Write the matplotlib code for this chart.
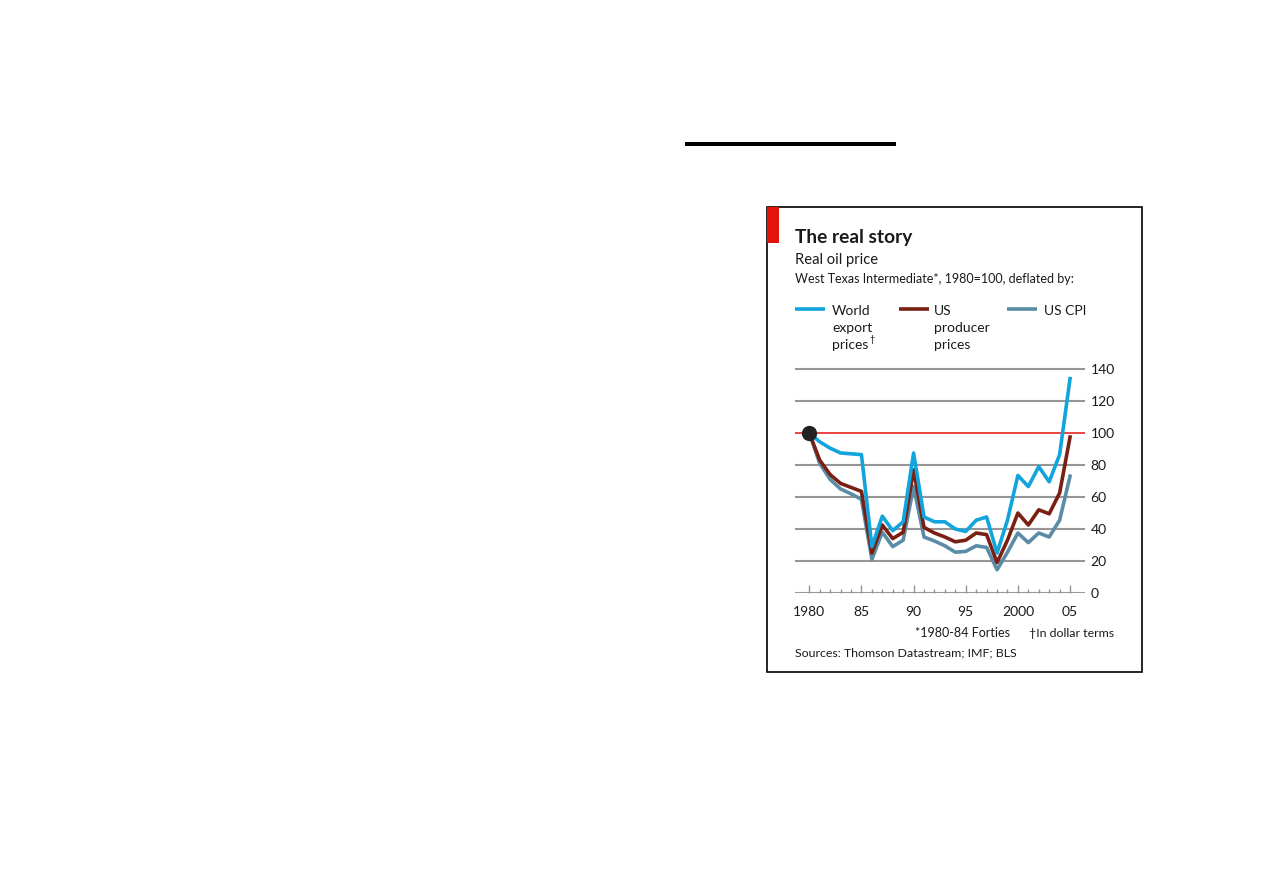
import matplotlib
matplotlib.use("Agg")
import matplotlib.pyplot as plt
from matplotlib.lines import Line2D
from matplotlib.patches import Rectangle

plt.rcParams['font.family'] = ['Lato', 'DejaVu Sans']

# ---- data ----
years = list(range(1980, 2006))
world_export = [100, 94.5, 90.5, 87.5, 87, 86.5, 29, 48, 39, 44.5, 87.5,
                47.5, 44.5, 44.5, 40, 38.5, 45.5, 47.5, 25, 45.5, 73.5,
                66.5, 79, 69.5, 86.5, 134]
us_producer = [100, 83, 74, 68.5, 66, 63.5, 25, 42.5, 34, 38, 77,
               41, 37.5, 35, 32, 33, 37.5, 36.5, 19, 33, 50,
               42.5, 52, 49.5, 62.5, 97.5]
us_cpi = [100, 81, 71, 65, 62, 58.5, 21, 38, 29, 33, 66.5,
          35, 32.5, 29.5, 25.5, 26, 29.5, 28.5, 14.5, 25.5, 37.5,
          31.5, 37.5, 35, 45.5, 73]
series_names = [["World", "export", "prices"], ["US", "producer", "prices"], ["US CPI"]]
xtick_vals = [1980, 1985, 1990, 1995, 2000, 2005]
xtick_labels = ["1980", "85", "90", "95", "2000", "05"]
ytick_vals = [0, 20, 40, 60, 80, 100, 120, 140]

C_BLUE = "#12a4dd"
C_RED = "#7a2013"
C_CPI = "#5b8ca6"
C_GRID = "#969696"
C_TEXT = "#1a1a1a"
C_ECON = "#e3120b"

W, H = 1263, 893
fig = plt.figure(figsize=(W / 100, H / 100), dpi=100)
fig.patch.set_facecolor("white")

def fx(x):
    return x / W

def fy(y):
    return 1 - y / H

# frame and decorations
fig.add_artist(Rectangle((fx(767), fy(672)), fx(1142) - fx(767), fy(207) - fy(672),
                         transform=fig.transFigure, fill=False, edgecolor="black", linewidth=1.2))
fig.add_artist(Rectangle((fx(767), fy(243)), fx(779) - fx(767), fy(207) - fy(243),
                         transform=fig.transFigure, facecolor=C_ECON, edgecolor="none"))
fig.add_artist(Rectangle((fx(685), fy(146)), fx(896) - fx(685), fy(142) - fy(146),
                         transform=fig.transFigure, facecolor="black", edgecolor="none"))

# texts
fig.text(fx(795), fy(243), "The real story", fontsize=13.8, fontweight="bold",
         color=C_TEXT, va="baseline", ha="left")
fig.text(fx(795), fy(264), "Real oil price", fontsize=10.6, color=C_TEXT,
         va="baseline", ha="left")
fig.text(fx(795), fy(283), "West Texas Intermediate*, 1980=100, deflated by:",
         fontsize=9.0, color=C_TEXT, va="baseline", ha="left")

# legend (manual)
leg = [(795, 832, C_BLUE, series_names[0]),
       (899, 934, C_RED, series_names[1]),
       (1007, 1044, C_CPI, series_names[2])]
for x0, xt, col, lines in leg:
    fig.add_artist(Line2D([fx(x0), fx(x0 + 30)], [fy(309), fy(309)],
                          transform=fig.transFigure, color=col, linewidth=2.6,
                          solid_capstyle="butt"))
    for i, ln in enumerate(lines):
        fig.text(fx(xt), fy(315 + 17 * i), ln, fontsize=10, color=C_TEXT,
                 va="baseline", ha="left")
fig.text(fx(869), fy(342), "\u2020", fontsize=6.5, color=C_TEXT, va="baseline", ha="left")

# axes
ax = fig.add_axes([fx(795), fy(593), fx(1085) - fx(795), fy(361) - fy(593)])
ax.set_facecolor("none")
ax.set_xlim(1980 - 14.3 / 10.43, 1980 + (1085 - 809.3) / 10.43)
ax.set_ylim(0, 145)
for s in ax.spines.values():
    s.set_visible(False)

for v in ytick_vals:
    if v == 100:
        ax.axhline(v, color=C_ECON, linewidth=1.1, zorder=1)
    else:
        ax.axhline(v, color=C_GRID, linewidth=1.5, zorder=1)

ax.plot(years, us_cpi, color=C_CPI, linewidth=2.6, zorder=3)
ax.plot(years, us_producer, color=C_RED, linewidth=2.6, zorder=4)
ax.plot(years, world_export, color=C_BLUE, linewidth=2.6, zorder=5)
ax.plot([years[0]], [world_export[0]], marker="o", markersize=10,
        color="#222222", zorder=6)

ax.set_xticks(xtick_vals)
ax.set_xticklabels(xtick_labels)
ax.set_xticks(years, minor=True)
ax.tick_params(axis="x", which="major", direction="in", length=5.5, width=1,
               color=C_GRID, pad=9, labelsize=10, labelcolor=C_TEXT)
ax.tick_params(axis="x", which="minor", direction="in", length=3, width=1,
               color=C_GRID)
ax.yaxis.tick_right()
ax.set_yticks(ytick_vals)
ax.set_yticklabels([str(v) for v in ytick_vals])
ax.tick_params(axis="y", which="both", length=0, pad=4, labelsize=10,
               labelcolor=C_TEXT)

# footnotes
fig.text(fx(915), fy(637), "*1980-84 Forties", fontsize=9.0, color=C_TEXT,
         va="baseline", ha="left")
fig.text(fx(1114), fy(637), "\u2020In dollar terms", fontsize=8.9, color=C_TEXT,
         va="baseline", ha="right")
fig.text(fx(795), fy(656), "Sources: Thomson Datastream; IMF; BLS", fontsize=8.9,
         color=C_TEXT, va="baseline", ha="left")

fig.savefig("out.png", dpi=100, facecolor="white")
